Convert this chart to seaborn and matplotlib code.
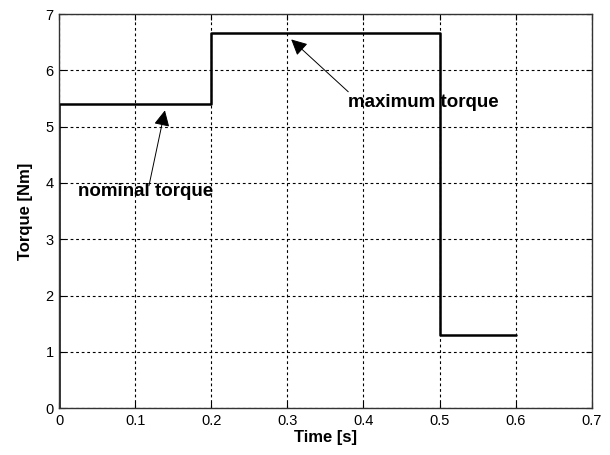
import matplotlib
matplotlib.use("Agg")
import matplotlib.pyplot as plt
import seaborn as sns
import pandas as pd

time_s = [0.0, 0.0, 0.2, 0.5, 0.6]
torque_nm = [0.0, 5.4, 6.67, 1.3, 1.3]
x_ticks = [0, 0.1, 0.2, 0.3, 0.4, 0.5, 0.6, 0.7]
x_tick_labels = ["0", "0.1", "0.2", "0.3", "0.4", "0.5", "0.6", "0.7"]
y_ticks = [0, 1, 2, 3, 4, 5, 6, 7]

sns.set_theme(style="white")
plt.rcParams['font.family'] = ['Liberation Sans', 'DejaVu Sans']
plt.rcParams['text.color'] = 'black'
plt.rcParams['axes.labelcolor'] = 'black'

df = pd.DataFrame({"Time": time_s, "Torque": torque_nm})

fig = plt.figure(figsize=(6.1, 4.55), dpi=100)
ax = fig.add_axes([0.097, 0.103, 0.873, 0.866])
sns.lineplot(data=df, x="Time", y="Torque", ax=ax, estimator=None, sort=False,
             drawstyle="steps-post", color="black", linewidth=1.8)

ax.set_xlim(0, 0.7)
ax.set_ylim(0, 7)
ax.set_xticks(x_ticks)
ax.set_xticklabels(x_tick_labels)
ax.set_yticks(y_ticks)
ax.tick_params(direction="in", length=4, width=0.8, labelsize=10.5, colors="black",
               top=True, right=True, bottom=True, left=True, pad=4)
for lab in ax.get_xticklabels() + ax.get_yticklabels():
    lab.set_color("black")
ax.grid(True, color="black", linestyle=(0, (2.5, 2.5)), linewidth=0.8)
for s in ax.spines.values():
    s.set_color("#333333")
    s.set_linewidth(1.0)

ax.set_xlabel("Time [s]", fontsize=12, fontweight="bold", labelpad=2, color="black")
ax.set_ylabel("Torque [Nm]", fontsize=12, fontweight="bold", labelpad=9, color="black")

arrow = dict(arrowstyle="-|>", color="black", lw=0.7, mutation_scale=24,
             shrinkA=0, shrinkB=0)
ax.annotate("", xy=(0.139, 5.29), xytext=(0.118, 3.95), arrowprops=arrow)
ax.text(0.025, 3.85, "nominal torque", fontsize=13.5, fontweight="bold",
        va="center", ha="left", color="black")
ax.annotate("", xy=(0.305, 6.55), xytext=(0.38, 5.62), arrowprops=arrow)
ax.text(0.38, 5.43, "maximum torque", fontsize=13.5, fontweight="bold",
        va="center", ha="left", color="black")

fig.savefig("out.png", dpi=100)
